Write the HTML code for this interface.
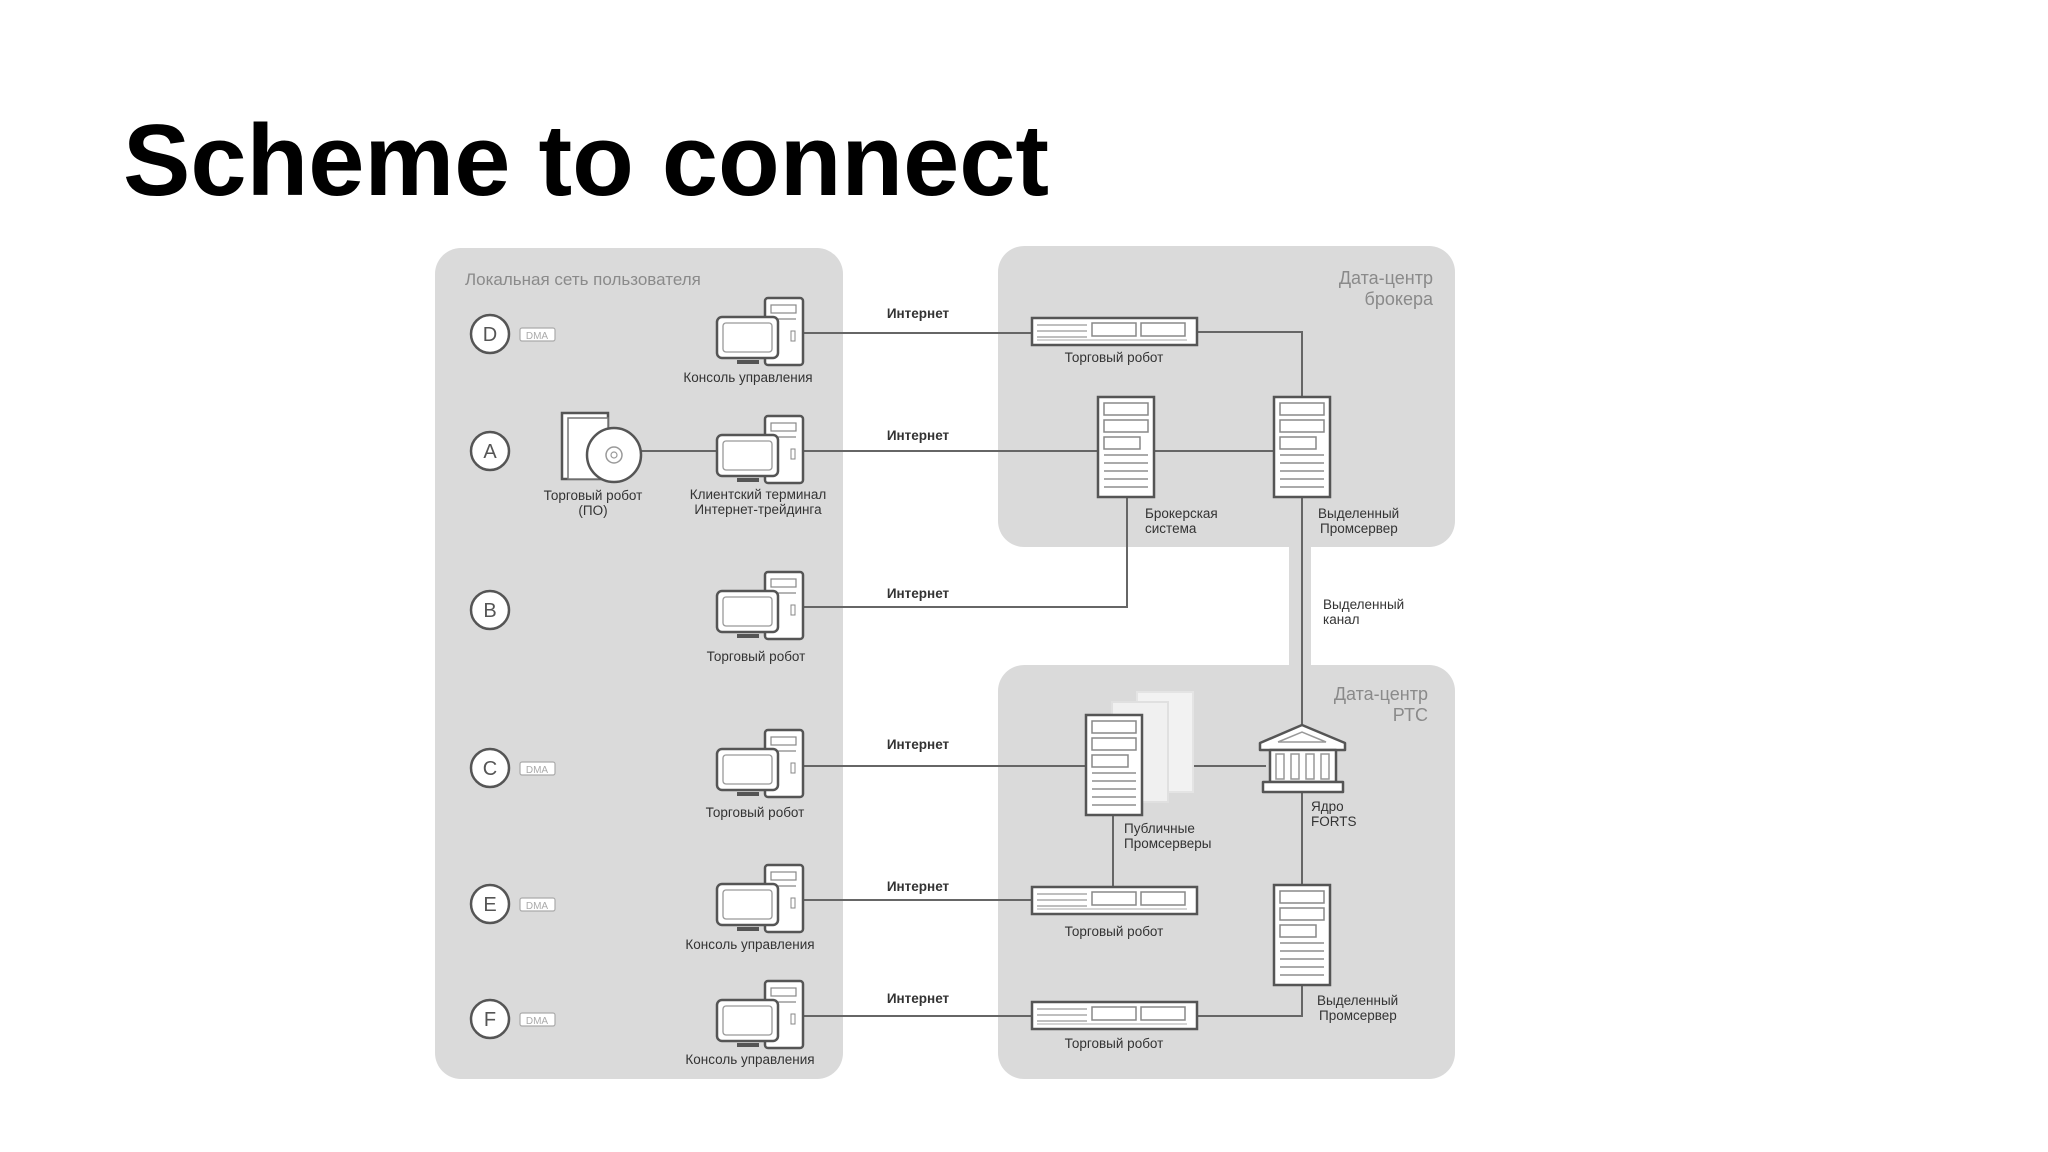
<!DOCTYPE html>
<html><head><meta charset="utf-8"><style>
html,body{margin:0;padding:0;background:#fff;}
svg{display:block;}
text{font-family:"Liberation Sans","Noto Sans CJK SC",sans-serif;}
</style></head><body>
<svg width="2048" height="1152" viewBox="0 0 2048 1152" xmlns="http://www.w3.org/2000/svg">
<defs>
<g id="pc">
  <rect x="48" y="-35" width="38" height="67" rx="3" fill="#fff" stroke="#555" stroke-width="2.5"/>
  <rect x="54" y="-28" width="25" height="8" fill="#fff" stroke="#888" stroke-width="1.2"/>
  <line x1="54" y1="-14" x2="79" y2="-14" stroke="#888" stroke-width="1.2"/>
  <rect x="74" y="-2" width="4" height="10" fill="none" stroke="#888" stroke-width="1"/>
  <rect x="0" y="-16" width="61" height="41" rx="5" fill="#fff" stroke="#555" stroke-width="2.5"/>
  <rect x="6" y="-10" width="49" height="29" rx="3" fill="#fff" stroke="#999" stroke-width="1.3"/>
  <rect x="20" y="27" width="22" height="4" fill="#555"/>
</g>
<g id="rack">
  <rect x="0" y="0" width="165" height="27" fill="#fff" stroke="#555" stroke-width="2.5"/>
  <line x1="5" y1="7" x2="55" y2="7" stroke="#aaa" stroke-width="1.5"/>
  <line x1="5" y1="13" x2="55" y2="13" stroke="#aaa" stroke-width="1.5"/>
  <line x1="5" y1="19" x2="55" y2="19" stroke="#aaa" stroke-width="1.5"/>
  <rect x="60" y="5" width="44" height="13" fill="#fff" stroke="#888" stroke-width="1.5"/>
  <rect x="109" y="5" width="44" height="13" fill="#fff" stroke="#888" stroke-width="1.5"/>
  <line x1="5" y1="22" x2="155" y2="22" stroke="#bbb" stroke-width="1.2"/>
</g>
<g id="srv">
  <rect x="0" y="0" width="56" height="100" fill="#fff" stroke="#555" stroke-width="2.5"/>
  <rect x="6" y="6" width="44" height="12" fill="#fff" stroke="#888" stroke-width="1.5"/>
  <rect x="6" y="23" width="44" height="12" fill="#fff" stroke="#888" stroke-width="1.5"/>
  <rect x="6" y="40" width="36" height="12" fill="#fff" stroke="#888" stroke-width="1.5"/>
  <line x1="6" y1="58" x2="50" y2="58" stroke="#aaa" stroke-width="2"/>
  <line x1="6" y1="66" x2="50" y2="66" stroke="#aaa" stroke-width="2"/>
  <line x1="6" y1="74" x2="50" y2="74" stroke="#aaa" stroke-width="2"/>
  <line x1="6" y1="82" x2="50" y2="82" stroke="#aaa" stroke-width="2"/>
  <line x1="6" y1="90" x2="50" y2="90" stroke="#aaa" stroke-width="2"/>
</g>
</defs>

<text x="123" y="195" font-size="101" font-weight="bold" fill="#000">Scheme to connect</text>

<!-- panels -->
<rect x="435" y="248" width="408" height="831" rx="26" fill="#dadada"/>
<rect x="998" y="246" width="457" height="301" rx="26" fill="#dadada"/>
<rect x="998" y="665" width="457" height="414" rx="26" fill="#dadada"/>
<rect x="1289" y="540" width="22" height="132" fill="#dadada"/>

<text x="465" y="285" font-size="17" fill="#8a8a8a">Локальная сеть пользователя</text>
<text x="1433" y="284" font-size="18" fill="#8a8a8a" text-anchor="end">Дата-центр</text>
<text x="1433" y="305" font-size="18" fill="#8a8a8a" text-anchor="end">брокера</text>
<text x="1428" y="700" font-size="18" fill="#8a8a8a" text-anchor="end">Дата-центр</text>
<text x="1428" y="721" font-size="18" fill="#8a8a8a" text-anchor="end">РТС</text>

<!-- connectors -->
<g stroke="#666" stroke-width="2" fill="none">
  <polyline points="803,333 1032,333"/>
  <polyline points="1197,332 1302,332 1302,397"/>
  <line x1="640" y1="451" x2="717" y2="451"/>
  <line x1="803" y1="451" x2="1098" y2="451"/>
  <line x1="1155" y1="451" x2="1274" y2="451"/>
  <polyline points="803,607 1127,607 1127,497"/>
  <line x1="1302" y1="497" x2="1302" y2="725"/>
  <line x1="803" y1="766" x2="1086" y2="766"/>
  <line x1="1192" y1="766" x2="1266" y2="766"/>
  <line x1="1302" y1="792" x2="1302" y2="885"/>
  <line x1="1113" y1="813" x2="1113" y2="887"/>
  <line x1="803" y1="900" x2="1032" y2="900"/>
  <line x1="803" y1="1016" x2="1032" y2="1016"/>
  <polyline points="1197,1016 1302,1016 1302,983"/>
</g>

<g font-size="13.5" font-weight="bold" fill="#333" text-anchor="middle">
  <text x="918" y="318">Интернет</text>
  <text x="918" y="440">Интернет</text>
  <text x="918" y="598">Интернет</text>
  <text x="918" y="749">Интернет</text>
  <text x="918" y="891">Интернет</text>
  <text x="918" y="1003">Интернет</text>
</g>

<!-- letters -->
<g fill="#fff" stroke="#555" stroke-width="2.5">
  <circle cx="490" cy="334" r="19"/><circle cx="490" cy="451" r="19"/>
  <circle cx="490" cy="610" r="19"/><circle cx="490" cy="768" r="19"/>
  <circle cx="490" cy="904" r="19"/><circle cx="490" cy="1019" r="19"/>
</g>
<g font-size="20" fill="#555" text-anchor="middle">
  <text x="490" y="341">D</text><text x="490" y="458">A</text>
  <text x="490" y="617">B</text><text x="490" y="775">C</text>
  <text x="490" y="911">E</text><text x="490" y="1026">F</text>
</g>
<g fill="#fff" stroke="#aaa" stroke-width="1.2">
  <rect x="520" y="328" width="35" height="13" rx="2"/>
  <rect x="520" y="762" width="35" height="13" rx="2"/>
  <rect x="520" y="898" width="35" height="13" rx="2"/>
  <rect x="520" y="1013" width="35" height="13" rx="2"/>
</g>
<g font-size="10" fill="#aaa" text-anchor="middle">
  <text x="537" y="339">DMA</text><text x="537" y="773">DMA</text>
  <text x="537" y="909">DMA</text><text x="537" y="1024">DMA</text>
</g>

<!-- computers -->
<use href="#pc" x="717" y="333"/>
<use href="#pc" x="717" y="451"/>
<use href="#pc" x="717" y="607"/>
<use href="#pc" x="717" y="765"/>
<use href="#pc" x="717" y="900"/>
<use href="#pc" x="717" y="1016"/>

<!-- software box -->
<rect x="562" y="413" width="46" height="66" fill="#fff" stroke="#555" stroke-width="2.5"/>
<rect x="568" y="418" width="40" height="61" fill="#fff" stroke="#777" stroke-width="1.5"/>
<circle cx="614" cy="455" r="27" fill="#fff" stroke="#555" stroke-width="2.5"/>
<circle cx="614" cy="455" r="8" fill="none" stroke="#999" stroke-width="1.5"/>
<circle cx="614" cy="455" r="3" fill="none" stroke="#999" stroke-width="1.2"/>

<g font-size="13.5" fill="#333" text-anchor="middle">
  <text x="748" y="382">Консоль управления</text>
  <text x="593" y="500">Торговый робот</text>
  <text x="593" y="515">(ПО)</text>
  <text x="758" y="499">Клиентский терминал</text>
  <text x="758" y="514">Интернет-трейдинга</text>
  <text x="756" y="661">Торговый робот</text>
  <text x="755" y="817">Торговый робот</text>
  <text x="750" y="949">Консоль управления</text>
  <text x="750" y="1064">Консоль управления</text>
  <text x="1114" y="362">Торговый робот</text>
  <text x="1114" y="936">Торговый робот</text>
  <text x="1114" y="1048">Торговый робот</text>
</g>
<g font-size="13.5" fill="#333">
  <text x="1145" y="518">Брокерская</text><text x="1145" y="533">система</text>
  <text x="1318" y="518">Выделенный</text><text x="1320" y="533">Промсервер</text>
  <text x="1323" y="609">Выделенный</text><text x="1323" y="624">канал</text>
  <text x="1311" y="811">Ядро</text><text x="1311" y="826">FORTS</text>
  <text x="1124" y="833">Публичные</text><text x="1124" y="848">Промсерверы</text>
  <text x="1317" y="1005">Выделенный</text><text x="1319" y="1020">Промсервер</text>
</g>

<!-- servers/racks -->
<use href="#rack" x="1032" y="318"/>
<use href="#srv" x="1098" y="397"/>
<use href="#srv" x="1274" y="397"/>
<rect x="1137" y="692" width="56" height="100" fill="#f2f2f2" stroke="#e4e4e4" stroke-width="2"/>
<rect x="1112" y="702" width="56" height="100" fill="#f0f0f0" stroke="#e0e0e0" stroke-width="2"/>
<use href="#srv" x="1086" y="715"/>
<use href="#rack" x="1032" y="887"/>
<use href="#rack" x="1032" y="1002"/>
<use href="#srv" x="1274" y="885"/>

<!-- FORTS -->
<g fill="#fff" stroke="#555" stroke-width="2.5" stroke-linejoin="round">
  <polygon points="1302,725 1345,743 1345,750 1260,750 1260,743"/>
  <rect x="1270" y="750" width="66" height="32"/>
  <rect x="1263" y="782" width="80" height="10"/>
</g>
<g fill="none" stroke="#999" stroke-width="1.5">
  <polyline points="1278,742 1302,732 1326,742 1278,742"/>
  <rect x="1276" y="754" width="8" height="25"/>
  <rect x="1291" y="754" width="8" height="25"/>
  <rect x="1306" y="754" width="8" height="25"/>
  <rect x="1321" y="754" width="8" height="25"/>
</g>
</svg>
</body></html>
